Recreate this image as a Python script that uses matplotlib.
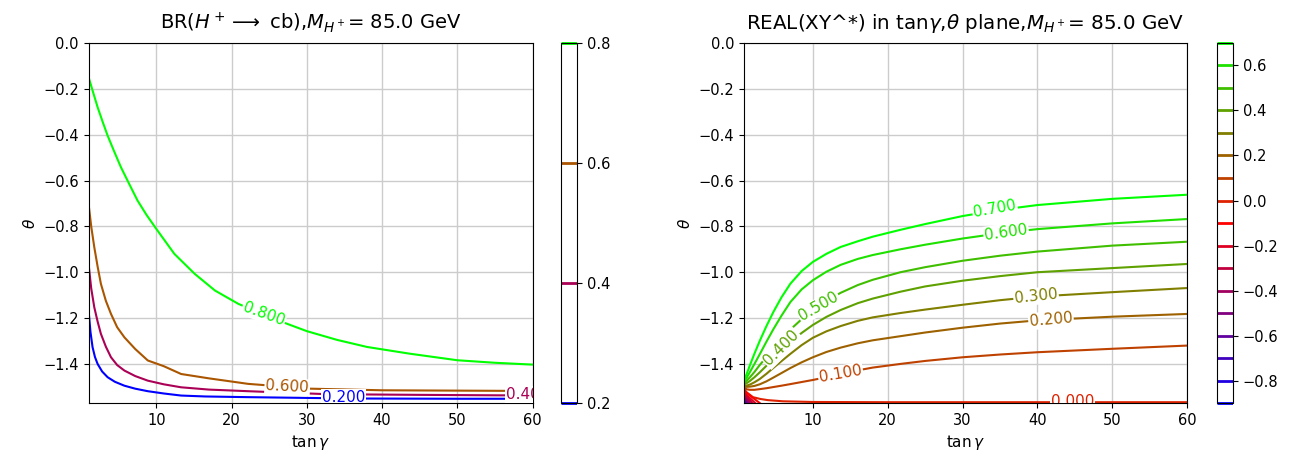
import numpy as np
import matplotlib
matplotlib.use("Agg")
import matplotlib.pyplot as plt
from matplotlib import colors, cm

# ---- left panel: BR(H+ -> cb) contour lines ----
br_levels = [0.2, 0.4, 0.6, 0.8]

br02_x = [1, 1.25, 1.53, 1.85, 2.2, 2.8, 3.53, 4.5, 5.76, 7.2, 8.87, 11, 13.3, 16.5, 22.2, 31.6, 38, 50, 60]
br02_y = [-1.167, -1.26, -1.327, -1.37, -1.40, -1.433, -1.458, -1.478, -1.495, -1.508, -1.519,
          -1.529, -1.538, -1.542, -1.545, -1.549, -1.551, -1.552, -1.552]
br04_x = [1, 1.35, 1.76, 2.2, 2.64, 3.3, 3.98, 4.8, 5.76, 7.2, 8.87, 11, 13.3, 17, 22.2, 32.7, 45, 55.5, 60]
br04_y = [-0.964, -1.07, -1.153, -1.215, -1.269, -1.325, -1.371, -1.405, -1.429, -1.453, -1.473,
          -1.489, -1.502, -1.512, -1.519, -1.532, -1.535, -1.537, -1.537]
br06_x = [1, 1.35, 1.76, 2.2, 2.64, 3.3, 3.98, 4.8, 5.76, 7.2, 8.87, 11, 13.3, 17, 22.2, 30.5, 40, 60]
br06_y = [-0.702, -0.80, -0.891, -0.975, -1.051, -1.125, -1.182, -1.24, -1.284, -1.335, -1.385,
          -1.41, -1.444, -1.463, -1.487, -1.508, -1.515, -1.518]
br08_x = [1, 1.6, 2.2, 2.85, 3.53, 4.4, 5.3, 6.4, 7.5, 8.7, 10, 12.4, 15.1, 17.8, 20.9, 24.3, 27.3,
          30, 34, 38, 43.6, 50, 55, 60]
br08_y = [-0.149, -0.215, -0.28, -0.342, -0.404, -0.473, -0.542, -0.615, -0.687, -0.75, -0.811,
          -0.92, -1.007, -1.08, -1.138, -1.185, -1.224, -1.257, -1.295, -1.326, -1.355, -1.384,
          -1.395, -1.403]

br_labels = ["0.200", "0.40", "0.600", "0.800"]
br_label_x = [34.9, 58.7, 27.4, 24.3]
br_label_y = [-1.548, -1.535, -1.500, -1.182]
br_label_rot = [0, 0, -3, -20]

# ---- right panel: REAL(XY^*) contour lines ----
xy_levels = [-0.9, -0.8, -0.7, -0.6, -0.5, -0.4, -0.3, -0.2, -0.1,
             0.0, 0.1, 0.2, 0.3, 0.4, 0.5, 0.6, 0.7]

xy_x = [0.8, 1.2, 1.6, 2.2, 2.9, 3.8, 4.7, 5.8, 7, 8.5, 10, 11.8, 13.7, 16, 18, 21.7, 25, 30, 35, 40, 50, 60]
xy07_y = [-1.475, -1.44, -1.405, -1.355, -1.30, -1.235, -1.175, -1.11, -1.05, -0.995, -0.955,
          -0.92, -0.89, -0.865, -0.845, -0.815, -0.79, -0.755, -0.728, -0.707, -0.68, -0.662]
xy06_y = [-1.48, -1.458, -1.435, -1.40, -1.358, -1.303, -1.25, -1.19, -1.13, -1.075, -1.035,
          -0.998, -0.968, -0.942, -0.925, -0.90, -0.88, -0.853, -0.83, -0.812, -0.787, -0.768]
xy05_y = [-1.485, -1.472, -1.458, -1.435, -1.405, -1.37, -1.335, -1.292, -1.25, -1.205, -1.165,
          -1.125, -1.09, -1.056, -1.033, -1.0, -0.978, -0.95, -0.928, -0.91, -0.884, -0.867]
xy04_y = [-1.49, -1.483, -1.474, -1.458, -1.437, -1.408, -1.378, -1.342, -1.305, -1.265, -1.23,
          -1.195, -1.165, -1.135, -1.115, -1.085, -1.062, -1.037, -1.017, -1.0, -0.982, -0.964]
xy03_y = [-1.495, -1.494, -1.49, -1.48, -1.466, -1.443, -1.418, -1.388, -1.356, -1.318, -1.286,
          -1.258, -1.235, -1.212, -1.197, -1.178, -1.163, -1.142, -1.122, -1.106, -1.087, -1.069]
xy02_y = [-1.50, -1.50, -1.499, -1.496, -1.489, -1.476, -1.46, -1.44, -1.418, -1.393, -1.371,
          -1.348, -1.329, -1.31, -1.297, -1.279, -1.263, -1.242, -1.224, -1.21, -1.194, -1.182]
xy01_y = [-1.505, -1.511, -1.513, -1.513, -1.51, -1.506, -1.501, -1.495, -1.488, -1.479, -1.47,
          -1.458, -1.444, -1.428, -1.416, -1.40, -1.387, -1.371, -1.359, -1.349, -1.334, -1.32]
xy00_x = [0.8, 1.2, 2, 3, 4, 6, 10, 20, 40, 60]
xy00_y = [-1.51, -1.525, -1.545, -1.553, -1.558, -1.563, -1.566, -1.567, -1.567, -1.567]

# negative levels only show as short strokes in the lower left corner
neg_y0 = [-1.56, -1.555, -1.55, -1.545, -1.54, -1.535, -1.53, -1.525, -1.518]
neg_x1 = [0.9, 1.0, 1.1, 1.25, 1.4, 1.6, 1.9, 2.3, 2.9]

xy_labels = ["0.000", "0.100", "0.200", "0.300", "0.400", "0.500", "0.600", "0.700"]
xy_label_x = [44.7, 13.7, 41.8, 39.8, 5.8, 10.8, 35.8, 34.3]
xy_label_y = [-1.562, -1.444, -1.208, -1.105, -1.33, -1.15, -0.826, -0.724]
xy_label_rot = [0, 10, 5, 6, 45, 30, 8, 10]

plt.rcParams["font.size"] = 10.5
cmap = plt.get_cmap("brg")
theta_min = -np.pi / 2

fig = plt.figure(figsize=(12.93, 4.57), dpi=100)
ax1 = fig.add_axes([0.0685, 0.118, 0.3434, 0.788])
cax1 = fig.add_axes([0.4339, 0.118, 0.0124, 0.788])
ax2 = fig.add_axes([0.5754, 0.118, 0.3428, 0.788])
cax2 = fig.add_axes([0.9412, 0.118, 0.0124, 0.788])

# left
norm1 = colors.Normalize(min(br_levels), max(br_levels))
br_curves = [(br02_x, br02_y), (br04_x, br04_y), (br06_x, br06_y), (br08_x, br08_y)]
br_cols = [cmap(norm1(l)) for l in br_levels]
for (cx, cy), c in zip(br_curves, br_cols):
    ax1.plot(cx, cy, color=c, lw=1.5)
for i, t in enumerate(br_labels):
    ax1.text(br_label_x[i], br_label_y[i], t, color=br_cols[i], fontsize=11,
             rotation=br_label_rot[i], ha="center", va="center", clip_on=True,
             bbox=dict(fc="white", ec="none", pad=0.8))

ax1.set_xlim(1, 60)
ax1.set_ylim(theta_min, 0)
ax1.set_xticks([10, 20, 30, 40, 50, 60])
ax1.set_yticks(np.arange(-1.4, 0.01, 0.2))
ax1.grid(True, color="#cccccc", lw=1)
ax1.set_axisbelow(True)
ax1.set_xlabel(r"$\tan\gamma$", fontsize=11)
ax1.set_ylabel(r"$\theta$", fontsize=11)
ax1.set_title(r"BR($H^+\longrightarrow$ cb),$M_{H^+}$= 85.0 GeV", fontsize=14, pad=10)

sm1 = cm.ScalarMappable(norm=norm1, cmap=colors.ListedColormap(["white"]))
cb1 = fig.colorbar(sm1, cax=cax1)
cb1.add_lines(br_levels, br_cols, [2] * len(br_levels))
cb1.set_ticks([0.2, 0.4, 0.6, 0.8])

# right
norm2 = colors.Normalize(min(xy_levels), max(xy_levels))
xy_cols = {l: cmap(norm2(l)) for l in xy_levels}
pos_curves = [(0.1, xy01_y), (0.2, xy02_y), (0.3, xy03_y), (0.4, xy04_y),
              (0.5, xy05_y), (0.6, xy06_y), (0.7, xy07_y)]
for lev, cy in pos_curves:
    ax2.plot(xy_x, cy, color=xy_cols[lev], lw=1.5)
ax2.plot(xy00_x, xy00_y, color=xy_cols[0.0], lw=1.5)
for lev, y0, x1 in zip(xy_levels[:9], neg_y0, neg_x1):
    ax2.plot([0.8, x1], [y0, theta_min], color=xy_cols[lev], lw=1.5)
label_levels = [0.0, 0.1, 0.2, 0.3, 0.4, 0.5, 0.6, 0.7]
for i, t in enumerate(xy_labels):
    ax2.text(xy_label_x[i], xy_label_y[i], t, color=xy_cols[label_levels[i]], fontsize=11,
             rotation=xy_label_rot[i], ha="center", va="center", clip_on=True,
             bbox=dict(fc="white", ec="none", pad=0.8))

ax2.set_xlim(0.8, 60)
ax2.set_ylim(theta_min, 0)
ax2.set_xticks([10, 20, 30, 40, 50, 60])
ax2.set_yticks(np.arange(-1.4, 0.01, 0.2))
ax2.grid(True, color="#cccccc", lw=1)
ax2.set_axisbelow(True)
ax2.set_xlabel(r"$\tan\gamma$", fontsize=11)
ax2.set_ylabel(r"$\theta$", fontsize=11)
ax2.set_title(r"REAL(XY^*) in tan$\gamma$,$\theta$ plane,$M_{H^+}$= 85.0 GeV", fontsize=14.3, pad=10)

sm2 = cm.ScalarMappable(norm=norm2, cmap=colors.ListedColormap(["white"]))
cb2 = fig.colorbar(sm2, cax=cax2)
cb2.add_lines(xy_levels, [xy_cols[l] for l in xy_levels], [2] * len(xy_levels))
cb2.set_ticks(np.arange(-0.8, 0.61, 0.2))

fig.savefig("out.png", dpi=100)
